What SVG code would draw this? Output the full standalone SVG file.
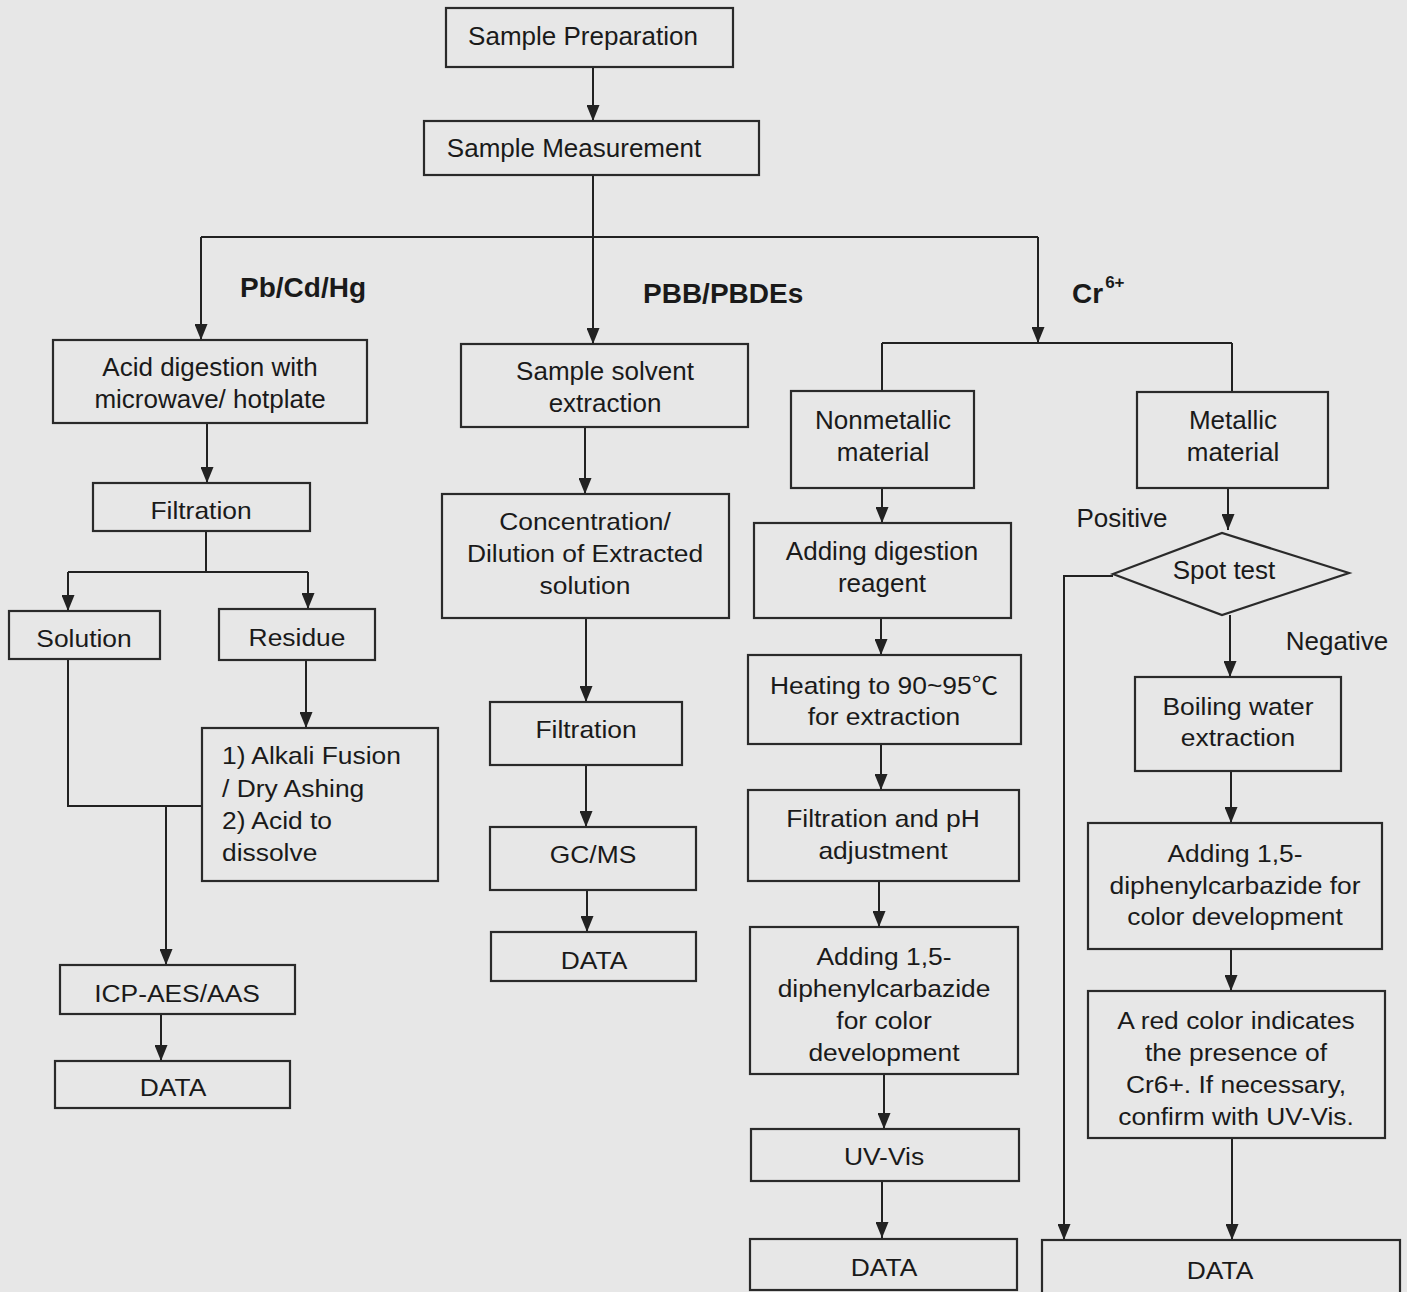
<svg xmlns="http://www.w3.org/2000/svg" width="1407" height="1292" viewBox="0 0 1407 1292">
<defs>
<marker id="ah" markerUnits="userSpaceOnUse" markerWidth="16" markerHeight="13" refX="16" refY="6.5" orient="auto">
<path d="M0,0 L16,6.5 L0,13 z" fill="#222"/>
</marker>
<style>
.bx{fill:none;stroke:#2a2a2a;stroke-width:2.2}
.ln{fill:none;stroke:#222;stroke-width:2}
.ar{fill:none;stroke:#222;stroke-width:2;marker-end:url(#ah)}
.n{font-family:"Liberation Sans",Arial,sans-serif;font-size:26px;fill:#1a1a1a;text-anchor:middle}
.w{font-family:"Liberation Sans",Arial,"Noto Sans CJK SC",sans-serif;font-size:24px;fill:#1a1a1a;text-anchor:middle}
.b{font-family:"Liberation Sans",Arial,sans-serif;font-size:28px;font-weight:bold;fill:#1a1a1a}
</style>
</defs>
<rect x="0" y="0" width="1407" height="1292" fill="#e7e7e7"/>

<g id="connectors">
<path class="ar" d="M593,67 V121"/>
<path class="ln" d="M593,175 V237 M201,237 H1038"/>
<path class="ar" d="M201,237 V340"/>
<path class="ar" d="M593,237 V344"/>
<path class="ar" d="M1038,237 V343"/>
<path class="ar" d="M207,423 V483"/>
<path class="ln" d="M206,531 V572 M68,572 H308"/>
<path class="ar" d="M68,572 V611"/>
<path class="ar" d="M308,572 V609"/>
<path class="ar" d="M306,660 V728"/>
<path class="ln" d="M68,659 V806 H202"/>
<path class="ar" d="M166,806 V965"/>
<path class="ar" d="M161,1014 V1061"/>
<path class="ar" d="M585,427 V494"/>
<path class="ar" d="M586,618 V702"/>
<path class="ar" d="M586,765 V827"/>
<path class="ar" d="M587,890 V932"/>
<path class="ln" d="M882,343 H1232 M882,343 V391 M1232,343 V392"/>
<path class="ar" d="M882,488 V523"/>
<path class="ar" d="M881,618 V655"/>
<path class="ar" d="M881,744 V790"/>
<path class="ar" d="M879,881 V927"/>
<path class="ar" d="M884,1074 V1129"/>
<path class="ar" d="M882,1181 V1238"/>
<path class="ar" d="M1228,488 V530"/>
<path class="ar" d="M1113,576 H1064 V1240"/>
<path class="ar" d="M1230,615 V677"/>
<path class="ar" d="M1231,771 V823"/>
<path class="ar" d="M1231,949 V991"/>
<path class="ar" d="M1232,1138 V1240"/>
</g>

<g id="labels">
<text class="b" x="240" y="297">Pb/Cd/Hg</text>
<text class="b" x="643" y="303">PBB/PBDEs</text>
<text class="b" x="1072" y="303">Cr<tspan font-size="17" dx="2" dy="-15">6+</tspan></text>
<text class="n" x="1122" y="527">Positive</text>
<text class="n" x="1337" y="650">Negative</text>
</g>

<g id="n1"><rect class="bx" x="446" y="8" width="287" height="59"/><text class="n" x="583" y="45">Sample Preparation</text></g>
<g id="n2"><rect class="bx" x="424" y="121" width="335" height="54"/><text class="n" x="574" y="157">Sample Measurement</text></g>

<g id="n3"><rect class="bx" x="53" y="340" width="314" height="83"/><text class="n" x="210" y="376">Acid digestion with</text><text class="n" x="210" y="408">microwave/ hotplate</text></g>
<g id="n4"><rect class="bx" x="93" y="483" width="217" height="48"/><text class="w" transform="translate(201,519) scale(1.1,1)">Filtration</text></g>
<g id="n5"><rect class="bx" x="9" y="611" width="151" height="48"/><text class="w" transform="translate(84,647) scale(1.1,1)">Solution</text></g>
<g id="n6"><rect class="bx" x="219" y="609" width="156" height="51"/><text class="w" transform="translate(297,646) scale(1.1,1)">Residue</text></g>
<g id="n7"><rect class="bx" x="202" y="728" width="236" height="153"/>
<g transform="translate(222,0) scale(1.1,1)" class="w" style="text-anchor:start">
<text x="0" y="764" style="text-anchor:start">1) Alkali Fusion</text>
<text x="0" y="797" style="text-anchor:start">/ Dry Ashing</text>
<text x="0" y="829" style="text-anchor:start">2) Acid to</text>
<text x="0" y="861" style="text-anchor:start">dissolve</text>
</g></g>
<g id="n8"><rect class="bx" x="60" y="965" width="235" height="49"/><text class="w" transform="translate(177,1002) scale(1.1,1)">ICP-AES/AAS</text></g>
<g id="n9"><rect class="bx" x="55" y="1061" width="235" height="47"/><text class="w" transform="translate(173,1096) scale(1.1,1)">DATA</text></g>

<g id="n10"><rect class="bx" x="461" y="344" width="287" height="83"/><text class="n" x="605" y="380">Sample solvent</text><text class="n" x="605" y="412">extraction</text></g>
<g id="n11"><rect class="bx" x="442" y="494" width="287" height="124"/>
<g transform="translate(585,0) scale(1.1,1)">
<text class="w" x="0" y="530">Concentration/</text>
<text class="w" x="0" y="562">Dilution of Extracted</text>
<text class="w" x="0" y="594">solution</text>
</g></g>
<g id="n12"><rect class="bx" x="490" y="702" width="192" height="63"/><text class="w" transform="translate(586,738) scale(1.1,1)">Filtration</text></g>
<g id="n13"><rect class="bx" x="490" y="827" width="206" height="63"/><text class="w" transform="translate(593,863) scale(1.1,1)">GC/MS</text></g>
<g id="n14"><rect class="bx" x="491" y="932" width="205" height="49"/><text class="w" transform="translate(594,969) scale(1.1,1)">DATA</text></g>

<g id="n15"><rect class="bx" x="791" y="391" width="183" height="97"/><text class="n" x="883" y="429">Nonmetallic</text><text class="n" x="883" y="461">material</text></g>
<g id="n16"><rect class="bx" x="754" y="523" width="257" height="95"/><text class="n" x="882" y="560">Adding digestion</text><text class="n" x="882" y="592">reagent</text></g>
<g id="n17"><rect class="bx" x="748" y="655" width="273" height="89"/>
<g transform="translate(884,0) scale(1.1,1)">
<text class="w" x="0" y="694">Heating to 90~95℃</text>
<text class="w" x="0" y="725">for extraction</text>
</g></g>
<g id="n18"><rect class="bx" x="748" y="790" width="271" height="91"/>
<g transform="translate(883,0) scale(1.1,1)">
<text class="w" x="0" y="827">Filtration and pH</text>
<text class="w" x="0" y="859">adjustment</text>
</g></g>
<g id="n19"><rect class="bx" x="750" y="927" width="268" height="147"/>
<g transform="translate(884,0) scale(1.1,1)">
<text class="w" x="0" y="965">Adding 1,5-</text>
<text class="w" x="0" y="997">diphenylcarbazide</text>
<text class="w" x="0" y="1029">for color</text>
<text class="w" x="0" y="1061">development</text>
</g></g>
<g id="n20"><rect class="bx" x="751" y="1129" width="268" height="52"/><text class="w" transform="translate(884,1165) scale(1.1,1)">UV-Vis</text></g>
<g id="n21"><rect class="bx" x="750" y="1239" width="267" height="51"/><text class="w" transform="translate(884,1276) scale(1.1,1)">DATA</text></g>

<g id="n22"><rect class="bx" x="1137" y="392" width="191" height="96"/><text class="n" x="1233" y="429">Metallic</text><text class="n" x="1233" y="461">material</text></g>
<g id="n23"><path class="bx" d="M1113,574 L1222,533 L1349,573 L1222,615 Z"/><text class="n" x="1224" y="579">Spot test</text></g>
<g id="n24"><rect class="bx" x="1135" y="677" width="206" height="94"/>
<g transform="translate(1238,0) scale(1.1,1)">
<text class="w" x="0" y="715">Boiling water</text>
<text class="w" x="0" y="746">extraction</text>
</g></g>
<g id="n25"><rect class="bx" x="1088" y="823" width="294" height="126"/>
<g transform="translate(1235,0) scale(1.1,1)">
<text class="w" x="0" y="862">Adding 1,5-</text>
<text class="w" x="0" y="894">diphenylcarbazide for</text>
<text class="w" x="0" y="925">color development</text>
</g></g>
<g id="n26"><rect class="bx" x="1088" y="991" width="297" height="147"/>
<g transform="translate(1236,0) scale(1.1,1)">
<text class="w" x="0" y="1029">A red color indicates</text>
<text class="w" x="0" y="1061">the presence of</text>
<text class="w" x="0" y="1093">Cr6+. If necessary,</text>
<text class="w" x="0" y="1125">confirm with UV-Vis.</text>
</g></g>
<g id="n27"><rect class="bx" x="1042" y="1240" width="358" height="60"/><text class="w" transform="translate(1220,1279) scale(1.1,1)">DATA</text></g>
</svg>
